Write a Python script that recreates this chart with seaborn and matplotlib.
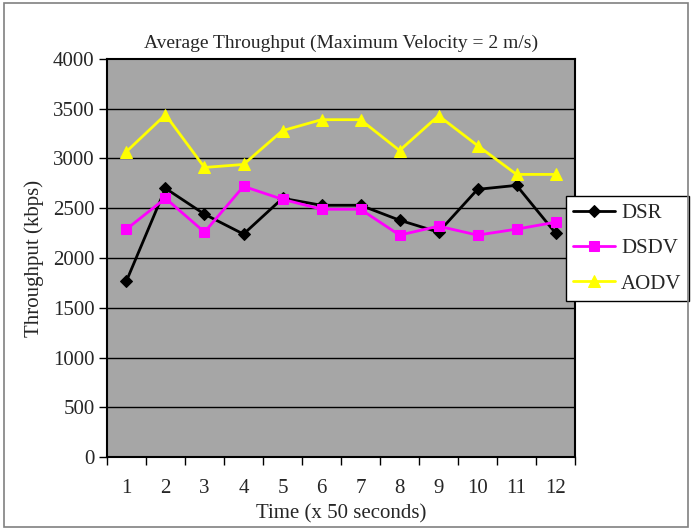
import matplotlib
matplotlib.use("Agg")
import matplotlib.pyplot as plt
import seaborn as sns
import pandas as pd
from matplotlib.patches import Rectangle

sns.set_style("white")
plt.rcParams['font.family'] = ['Liberation Serif', 'DejaVu Serif']

time = [1, 2, 3, 4, 5, 6, 7, 8, 9, 10, 11, 12]
dsr = [1770, 2700, 2440, 2240, 2600, 2530, 2530, 2380, 2260, 2690, 2730, 2250]
dsdv = [2290, 2600, 2260, 2720, 2590, 2490, 2490, 2230, 2320, 2230, 2290, 2360]
aodv = [3070, 3440, 2910, 2940, 3280, 3390, 3390, 3080, 3430, 3130, 2840, 2840]
y_ticks = [0, 500, 1000, 1500, 2000, 2500, 3000, 3500, 4000]

df = pd.concat([
    pd.DataFrame({"Time": time, "Throughput": dsr, "Protocol": "DSR"}),
    pd.DataFrame({"Time": time, "Throughput": dsdv, "Protocol": "DSDV"}),
    pd.DataFrame({"Time": time, "Throughput": aodv, "Protocol": "AODV"}),
])

colors = {"DSR": "#000000", "DSDV": "#ff00ff", "AODV": "#ffff00"}
markers = {"DSR": "D", "DSDV": "s", "AODV": "^"}
msizes = {"DSR": 6, "DSDV": 7, "AODV": 8}

fig = plt.figure(figsize=(6.92, 5.30), dpi=100)
fig.patch.set_facecolor("white")
fig.patches.append(Rectangle((0.006, 0.006), 0.988, 0.988, transform=fig.transFigure,
                             fill=False, edgecolor="#808080", linewidth=1.2))
ax = fig.add_axes([0.1546, 0.1377, 0.6764, 0.751])
ax.set_facecolor("#a6a6a6")

for p in ["DSR", "DSDV", "AODV"]:
    sub = df[df["Protocol"] == p]
    sns.lineplot(data=sub, x="Time", y="Throughput", ax=ax, color=colors[p],
                 marker=markers[p], markersize=msizes[p], markeredgecolor=colors[p],
                 linewidth=2, label=p, zorder=3)

ax.set_xlim(0.5, 12.5)
ax.set_ylim(0, 4000)
ax.set_yticks(y_ticks)
ax.set_yticklabels([str(v) for v in y_ticks], fontsize=15)
ax.set_xticks([i + 0.5 for i in range(0, 13)])
ax.set_xticklabels([])
ax.set_xticks(time, minor=True)
ax.set_xticklabels([str(t) for t in time], minor=True, fontsize=15)
ax.tick_params(axis="x", which="major", direction="out", length=6, width=1, color="black", bottom=True)
ax.tick_params(axis="x", which="minor", length=0, pad=16)
ax.tick_params(axis="y", direction="out", length=6, width=1, color="black", left=True, pad=3)

for v in y_ticks[1:-1]:
    ax.axhline(v, color="black", linewidth=1, zorder=1)
for s in ax.spines.values():
    s.set_color("black")
    s.set_linewidth(1.5)

ax.set_xlabel("Time (x 50 seconds)", fontsize=15, labelpad=4)
ax.set_ylabel("Throughput (kbps)", fontsize=15, labelpad=6)
ax.set_title("Average Throughput (Maximum Velocity = 2 m/s)", fontsize=14, pad=8)

leg = ax.legend(loc="upper left", bbox_to_anchor=(0.98, 0.655), frameon=True, fontsize=15,
                fancybox=False, edgecolor="black", handlelength=2.0, borderpad=0.35,
                labelspacing=0.75, handletextpad=0.3, borderaxespad=0)
leg.get_frame().set_linewidth(1)
leg.get_frame().set_facecolor("white")
leg.get_frame().set_alpha(1)

fig.savefig("out.png", dpi=100)
